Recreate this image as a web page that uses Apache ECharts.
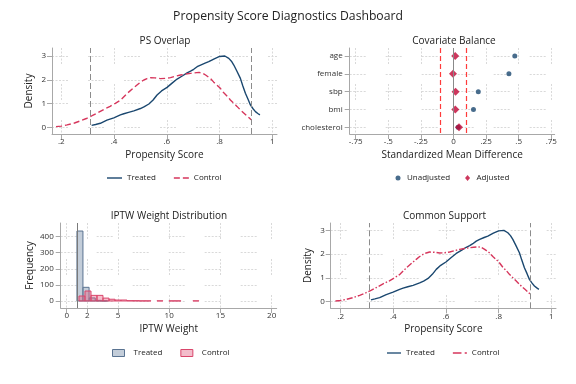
<!DOCTYPE html>
<html><head><meta charset="utf-8">
<script src="https://cdn.jsdelivr.net/npm/echarts@6/dist/echarts.min.js"></script>
<style>html,body{margin:0;padding:0;background:#fff}#c{width:576px;height:384px}</style>
</head><body><div id="c"></div>
<script>
// ---------- data ----------
const psTreatedX = [0.315,0.33,0.348,0.373,0.399,0.424,0.437,0.455,0.475,0.5,0.515,0.532,0.548,0.563,0.58,0.601,0.62,0.639,0.66,0.677,0.69,0.702,0.715,0.728,0.745,0.759,0.78,0.80,0.82,0.835,0.845,0.854,0.865,0.879,0.888,0.898,0.908,0.917,0.927,0.936,0.945,0.953];
const psTreatedY = [0.08,0.12,0.17,0.30,0.40,0.52,0.57,0.63,0.69,0.79,0.87,0.98,1.15,1.36,1.53,1.68,1.86,2.03,2.17,2.29,2.36,2.44,2.55,2.62,2.70,2.76,2.88,2.98,3.0,2.9,2.78,2.62,2.38,2.06,1.75,1.43,1.18,0.94,0.78,0.66,0.58,0.52];
const psControlX = [0.18,0.2,0.222,0.25,0.272,0.295,0.315,0.34,0.361,0.385,0.405,0.425,0.449,0.47,0.487,0.5,0.513,0.525,0.538,0.555,0.576,0.595,0.614,0.633,0.652,0.67,0.69,0.705,0.722,0.735,0.747,0.765,0.778,0.79,0.803,0.816,0.83,0.841,0.854,0.866,0.879,0.9,0.917,0.92];
const psControlY = [0.03,0.05,0.10,0.18,0.27,0.37,0.48,0.62,0.75,0.88,1.01,1.15,1.42,1.62,1.78,1.90,1.99,2.05,2.09,2.08,2.05,2.06,2.09,2.15,2.20,2.24,2.27,2.29,2.31,2.28,2.20,2.06,1.90,1.78,1.64,1.45,1.30,1.15,1.01,0.88,0.73,0.52,0.35,0.32];
const supportBounds = [0.31, 0.92];

const covariates = ['age','female','sbp','bmi','cholesterol'];
const smdUnadjusted = [0.47,0.425,0.19,0.153,0.035];
const smdAdjusted = [0.013,-0.004,0.016,0.014,0.042];
const smdThreshold = [-0.1, 0.1];

const histBinWidth = 0.585;
const treatedBinStart = [1.0,1.6,2.2,2.8,3.4];
const treatedFreq = [435,85,19,4,1];
const controlBinStart = [1.2,1.785,2.37,2.955,3.54,4.125,4.71,5.295,5.88,6.465,7.05,7.635,8.22,8.805,9.39,9.975,10.56,11.145,11.73,12.315];
const controlFreq = [31,62,35,35,18,11,6,6,2,2,1,1,0,1,0,1,1,0,0,1];
const weightRef = 1;

const psTicks = [0.2,0.4,0.6,0.8,1];
const psTickLabels = ['.2','.4','.6','.8','1'];
const densTicks = [0,1,2,3];
const densTickLabels = ['0','1','2','3'];
const smdTicks = [-0.75,-0.5,-0.25,0,0.25,0.5,0.75];
const smdTickLabels = ['-.75','-.5','-.25','0','.25','.5','.75'];
const covTicks = [0,1,2,3,4];
const wTicks = [0,2,5,10,15,20];
const wTickLabels = ['0','2','5','10','15','20'];
const freqTicks = [0,100,200,300,400];
const freqTickLabels = ['0','100','200','300','400'];

// ---------- style ----------
const FONT = '"Open Sans","Noto Sans",sans-serif';
const NAVY = '#1a476f';
const RED = '#d6365c';
const AXC = '#a8a8a8';
const GRIDDASH = [2,1.5,2,1.5,2,1.5,2,1.5,2,20];
const ICON_SOLID = 'path://M0,0h15v1.4h-15z';
const ICON_DASH = 'path://M0,0h6v1.4h-6zM9,0h6v1.4h-6z';
const ICON_DASHDOT = 'path://M0,0h8v1.4h-8zM11,0h2v1.4h-2z';

function lab(ticks, labels){
  return function(v){ const i = ticks.findIndex(t => Math.abs(t - v) < 1e-9); return i >= 0 ? labels[i] : ''; };
}
function axis(gi, min, max, ticks, labels, name, nameGap, margin, extra){
  return Object.assign({
    type:'value', gridIndex:gi, min:min, max:max,
    axisLine:{show:true, onZero:false, lineStyle:{color:AXC, width:1}},
    axisTick:{show:true, length:5, customValues:ticks, lineStyle:{color:AXC}},
    axisLabel:{customValues:ticks, formatter:lab(ticks, labels), fontSize:8, color:'#333', margin:margin, fontFamily:FONT},
    splitLine:{show:true, lineStyle:{color:'#d9d9d9', width:1, type:GRIDDASH}},
    name:name, nameLocation:'middle', nameGap:nameGap,
    nameTextStyle:{fontSize:10, color:'#222', fontFamily:FONT}
  }, extra || {});
}
function zip(a, b){ return a.map((v, i) => [v, b[i]]); }
function histData(starts, freqs){ return starts.map((s, i) => [s, s + histBinWidth, freqs[i]]).filter(d => d[2] > 0); }
function histRender(fill, stroke){
  return function(params, api){
    const p0 = api.coord([api.value(0), api.value(2)]);
    const p1 = api.coord([api.value(1), 0]);
    return {type:'rect', shape:{x:p0[0], y:p0[1], width:p1[0]-p0[0], height:p1[1]-p0[1]},
      style:{fill:fill, stroke:stroke, lineWidth:1}};
  };
}
const refLine = {silent:true, symbol:'none', label:{show:false}, animation:false,
  lineStyle:{color:'#8c8c8c', type:[6,3], width:1},
  data: supportBounds.map(v => ({xAxis:v}))};
const legendText = {fontSize:8, color:'#222', fontFamily:FONT};

const option = {
  animation:false,
  backgroundColor:'#fff',
  textStyle:{fontFamily:FONT},
  graphic:[
    {type:'text', left:'center', top:11, style:{text:'Propensity Score Diagnostics Dashboard', fontSize:12.2, fill:'#222', fontFamily:FONT}},
    {type:'text', x:165, y:41, style:{text:'PS Overlap', fontSize:10, fill:'#222', fontFamily:FONT, align:'center', verticalAlign:'middle'}},
    {type:'text', x:454, y:41, style:{text:'Covariate Balance', fontSize:10, fill:'#222', fontFamily:FONT, align:'center', verticalAlign:'middle'}},
    {type:'text', x:169, y:216, style:{text:'IPTW Weight Distribution', fontSize:10, fill:'#222', fontFamily:FONT, align:'center', verticalAlign:'middle'}},
    {type:'text', x:444.5, y:216, style:{text:'Common Support', fontSize:10, fill:'#222', fontFamily:FONT, align:'center', verticalAlign:'middle'}}
  ],
  grid:[
    {left:52, right:299, top:48, bottom:250},
    {left:349.7, right:21.3, top:48, bottom:250},
    {left:60.7, right:299.3, top:223, bottom:76},
    {left:330.7, right:20, top:223, bottom:75.7}
  ],
  xAxis:[
    axis(0, 0.1647, 1.0178, psTicks, psTickLabels, 'Propensity Score', 16, 4),
    axis(1, -0.796, 0.776, smdTicks, smdTickLabels, 'Standardized Mean Difference', 16, 4),
    axis(2, -0.585, 20.49, wTicks, wTickLabels, 'IPTW Weight', 16, 4),
    axis(3, 0.162, 1.018, psTicks, psTickLabels, 'Propensity Score', 16, 4)
  ],
  yAxis:[
    axis(0, -0.282, 3.337, densTicks, densTickLabels, 'Density', 18, 6),
    axis(1, -0.449, 4.376, covTicks, covariates, '', 0, 7, {inverse:true}),
    axis(2, -43.6, 485, freqTicks, freqTickLabels, 'Frequency', 26, 7),
    axis(3, -0.277, 3.31, densTicks, densTickLabels, 'Density', 17.5, 6)
  ],
  legend:[
    {left:107, top:174, padding:0, itemWidth:15, itemHeight:10, itemGap:18, textStyle:legendText,
      data:[{name:'Treated', icon:ICON_SOLID, itemStyle:{color:NAVY}},
            {name:'Control', icon:ICON_DASH, itemStyle:{color:RED}}]},
    {left:395.5, top:174, padding:0, itemWidth:5, itemHeight:6, itemGap:15, textStyle:Object.assign({padding:[0,0,0,1.5]}, legendText),
      data:[{name:'Unadjusted', icon:'circle'},{name:'Adjusted', icon:'diamond'}]},
    {left:112, top:349, padding:0, itemWidth:12, itemHeight:7, itemGap:18, textStyle:Object.assign({padding:[0,0,0,4]}, legendText),
      formatter:n => n.trim(),
      data:[{name:'Treated ', icon:'rect', itemStyle:{color:'#c3cdd9', borderColor:'#5a7391', borderWidth:1}},
            {name:'Control ', icon:'rect', itemStyle:{color:'#f3bdcb', borderColor:'#d9466b', borderWidth:1}}]},
    {left:387, top:349, padding:0, itemWidth:14, itemHeight:10, itemGap:18, textStyle:legendText,
      formatter:n => n.trim(),
      data:[{name:'Treated  ', icon:ICON_SOLID, itemStyle:{color:NAVY}},
            {name:'Control  ', icon:ICON_DASHDOT, itemStyle:{color:RED}}]}
  ],
  series:[
    {type:'line', name:'Treated', xAxisIndex:0, yAxisIndex:0, symbol:'none', data:zip(psTreatedX, psTreatedY),
      lineStyle:{color:NAVY, width:1.4}, itemStyle:{color:NAVY}, markLine:refLine},
    {type:'line', name:'Control', xAxisIndex:0, yAxisIndex:0, symbol:'none', data:zip(psControlX, psControlY),
      lineStyle:{color:RED, width:1.4, type:[6,3]}, itemStyle:{color:RED}},
    {type:'scatter', name:'Unadjusted', xAxisIndex:1, yAxisIndex:1, symbol:'circle', symbolSize:5,
      data:smdUnadjusted.map((v, i) => [v, i]), itemStyle:{color:NAVY}},
    {type:'scatter', name:'Adjusted', xAxisIndex:1, yAxisIndex:1, symbol:'diamond', symbolSize:8,
      data:smdAdjusted.map((v, i) => [v, i]), itemStyle:{color:'#c10534'}, z:3,
      markLine:{silent:true, symbol:'none', label:{show:false}, animation:false,
        data:[
          {xAxis:0, lineStyle:{color:'#8a8a8a', type:'solid', width:1}},
          {xAxis:smdThreshold[0], lineStyle:{color:'#ff3b3b', type:[5,3], width:1.2}},
          {xAxis:smdThreshold[1], lineStyle:{color:'#ff3b3b', type:[5,3], width:1.2}}
        ]}},
    {type:'custom', name:'Treated ', xAxisIndex:2, yAxisIndex:2, encode:{x:[0,1], y:2},
      data:histData(treatedBinStart, treatedFreq), renderItem:histRender('#c3cdd9', '#5a7391'),
      itemStyle:{color:'#c3cdd9'},
      markLine:{silent:true, symbol:'none', label:{show:false}, animation:false,
        lineStyle:{color:'#7a7a7a', type:'solid', width:1}, data:[{xAxis:weightRef}]}},
    {type:'custom', name:'Control ', xAxisIndex:2, yAxisIndex:2, encode:{x:[0,1], y:2},
      data:histData(controlBinStart, controlFreq), renderItem:histRender('rgba(232,90,125,0.4)', '#d9466b'),
      itemStyle:{color:'#f3bdcb'}},
    {type:'line', name:'Treated  ', xAxisIndex:3, yAxisIndex:3, symbol:'none', data:zip(psTreatedX, psTreatedY),
      lineStyle:{color:NAVY, width:1.4}, itemStyle:{color:NAVY}, markLine:refLine},
    {type:'line', name:'Control  ', xAxisIndex:3, yAxisIndex:3, symbol:'none', data:zip(psControlX, psControlY),
      lineStyle:{color:RED, width:1.4, type:[6,2,1.5,2]}, itemStyle:{color:RED}}
  ]
};
const chart = echarts.init(document.getElementById('c'), null, {renderer:'canvas'});
chart.setOption(option);
</script>
</body></html>
